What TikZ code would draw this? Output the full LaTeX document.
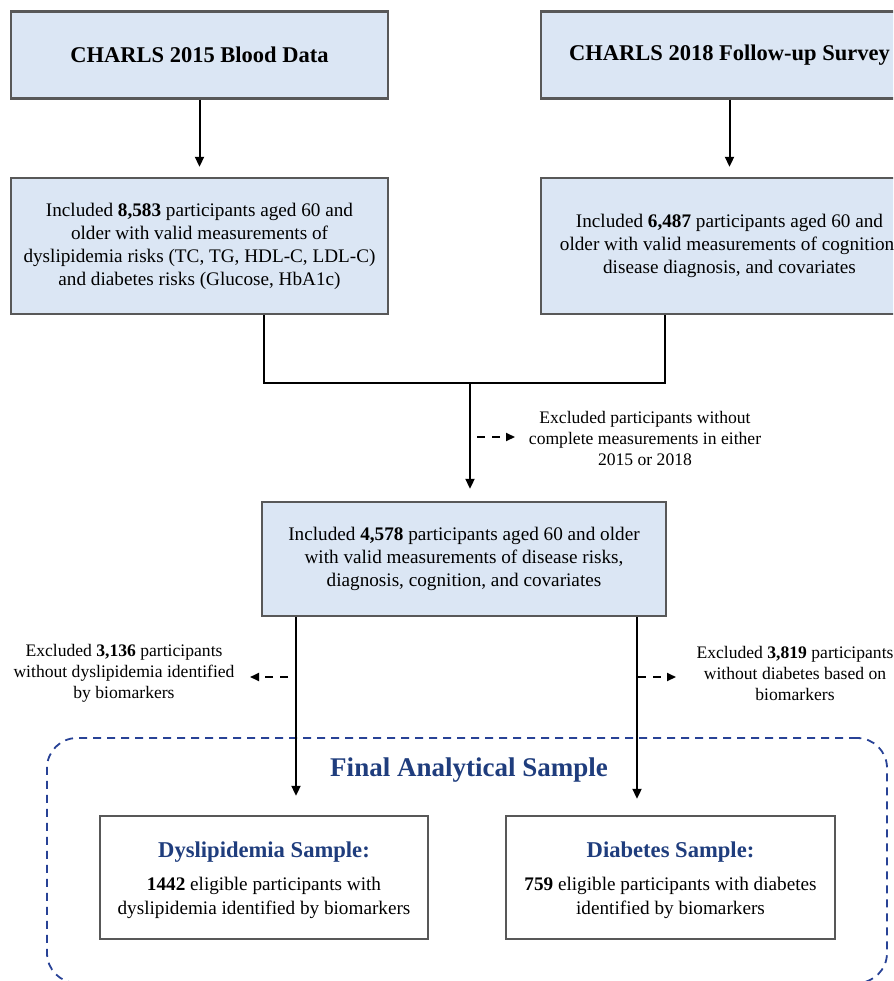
\documentclass[tikz,border=0pt]{standalone}
\usepackage{fontspec}
\setmainfont{Liberation Serif}
\usetikzlibrary{arrows.meta}
\definecolor{boxfill}{RGB}{219,230,244}
\definecolor{boxline}{RGB}{88,88,88}
\definecolor{navy}{RGB}{31,61,125}
\definecolor{dashnavy}{RGB}{40,66,150}
\tikzset{
  bluebox/.style={draw=boxline, line width=2.4pt, fill=boxfill, align=center, inner sep=0pt},
  whitebox/.style={draw=boxline, line width=2.4pt, fill=white, align=center, inner sep=0pt},
  titletext/.style={font=\fontsize{22.5}{26}\selectfont\bfseries},
  bodytext/.style={font=\fontsize{19.2}{23}\selectfont},
  plainbody/.style={font=\fontsize{19.2}{24}\selectfont, align=center, inner sep=0pt},
  sampletitle/.style={font=\fontsize{22.6}{26}\selectfont\bfseries, text=navy, inner sep=0pt},
  notetext/.style={font=\fontsize{17.6}{21}\selectfont, align=center, inner sep=0pt},
  mainarrow/.style={line width=2pt, -{Triangle[length=10pt,width=9pt]}},
  joinline/.style={line width=2pt},
  dasharrow/.style={line width=2pt, dash pattern=on 8pt off 7pt, -{Triangle[length=9pt,width=8pt]}},
  finalbox/.style={draw=dashnavy, line width=1.8pt, dash pattern=on 8pt off 6pt, rounded corners=30pt, inner sep=0pt},
}
\begin{document}
\begin{tikzpicture}[x=1pt,y=-1pt]
\useasboundingbox (0,0) rectangle (893,981);
\clip (0,0) rectangle (893,981);

% final region
\node[finalbox, minimum width=840pt, minimum height=245pt] (region) at (467,860.5) {};
\node[font=\fontsize{27}{30}\selectfont\bfseries, text=navy] (ftitle) at (469,770) {Final Analytical Sample};

% top boxes
\node[bluebox, titletext, minimum width=377pt, minimum height=87pt] (b1) at (199.5,55) {CHARLS 2015 Blood Data};
\node[bluebox, titletext, minimum width=377pt, minimum height=87pt] (b2) at (729.5,55) {CHARLS 2018 Follow-up Survey};

\node[bluebox, bodytext, minimum width=377pt, minimum height=136pt] (b3) at (199.5,246) {Included \textbf{8,583} participants aged 60 and\\older with valid measurements of\\dyslipidemia risks (TC, TG, HDL-C, LDL-C)\\and diabetes risks (Glucose, HbA1c)};
\node[bluebox, bodytext, minimum width=377pt, minimum height=136pt] (b4) at (729.5,246) {Included \textbf{6,487} participants aged 60 and\\older with valid measurements of cognition,\\disease diagnosis, and covariates};

\node[bluebox, bodytext, minimum width=404pt, minimum height=114pt] (b5) at (464,559) {Included \textbf{4,578} participants aged 60 and older\\with valid measurements of disease risks,\\diagnosis, cognition, and covariates};

% final sample boxes
\node[whitebox, minimum width=328pt, minimum height=123pt] (b6) at (264,877.5) {};
\node[sampletitle] (b6t) at (264,852) {Dyslipidemia Sample:};
\node[plainbody] (b6b) at (264,898) {\textbf{1442} eligible participants with\\dyslipidemia identified by biomarkers};

\node[whitebox, minimum width=329pt, minimum height=123pt] (b7) at (670.5,877.5) {};
\node[sampletitle] (b7t) at (670.5,852) {Diabetes Sample:};
\node[plainbody] (b7b) at (670.5,898) {\textbf{759} eligible participants with diabetes\\identified by biomarkers};

% exclusion notes
\node[notetext] (ex1) at (645,438) {Excluded participants without\\complete measurements in either\\2015 or 2018};
\node[notetext] (ex2) at (124,673) {Excluded \textbf{3,136} participants\\without dyslipidemia identified\\by biomarkers};
\node[notetext] (ex3) at (795,673) {Excluded \textbf{3,819} participants\\without diabetes based on\\biomarkers};

% connectors
\draw[mainarrow, shorten >=10pt] (b1.south) -- (b3.north);
\draw[mainarrow, shorten >=10pt] (b2.south) -- (b4.north);

\coordinate (jl) at (264,383);
\coordinate (jr) at (665,383);
\coordinate (jm) at (470,383);
\draw[joinline] (b3.south -| jl) -- (jl) -- (jr) -- (b4.south -| jr);
\draw[mainarrow, shorten >=12pt] (jm) -- (b5.north -| jm);

\coordinate (sl) at (296,616);
\coordinate (sr) at (637,616);
\draw[mainarrow, shorten >=19pt] (b5.south -| sl) -- (b6.north -| sl);
\draw[mainarrow, shorten >=16pt] (b5.south -| sr) -- (b7.north -| sr);

\coordinate (d1) at (477,437);
\coordinate (d1e) at (515,437);
\coordinate (d2) at (288,677);
\coordinate (d2e) at (250,677);
\coordinate (d3) at (638,677);
\coordinate (d3e) at (676,677);
\draw[dasharrow] (d1) -- (d1e);
\draw[dasharrow] (d2) -- (d2e);
\draw[dasharrow] (d3) -- (d3e);
\end{tikzpicture}
\end{document}
